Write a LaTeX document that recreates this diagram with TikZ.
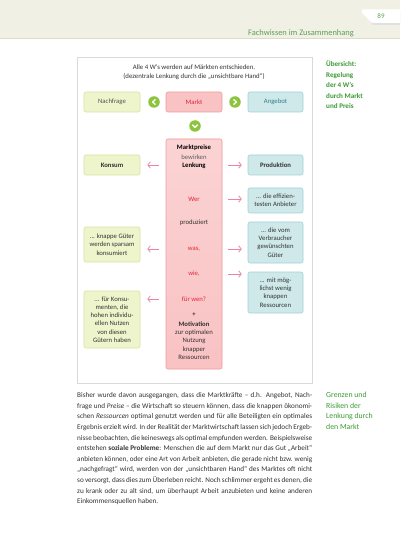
\documentclass[tikz,border=0pt]{standalone}
\usepackage{fontspec}
\setmainfont{Carlito}
\usetikzlibrary{arrows.meta,calc}
\definecolor{headbg}{HTML}{F1F0E4}
\definecolor{headline}{HTML}{DCDCC8}
\definecolor{headgreen}{HTML}{5E9E55}
\definecolor{framec}{HTML}{D9D9D9}
\definecolor{gfill}{HTML}{EEF5CC}
\definecolor{gdraw}{HTML}{D3E4A0}
\definecolor{rfill}{HTML}{F9C2C3}
\definecolor{rfilltop}{HTML}{FBD3D3}
\definecolor{rdraw}{HTML}{EE9EA6}
\definecolor{tfill}{HTML}{CFE8EA}
\definecolor{tdraw}{HTML}{A3D3D6}
\definecolor{redtext}{HTML}{E4233A}
\definecolor{tealtext}{HTML}{2E7E86}
\definecolor{arrpink}{HTML}{E985A0}
\definecolor{gcircc}{HTML}{8CC43E}
\definecolor{notegreen}{HTML}{3C9A34}
\definecolor{darktext}{HTML}{333333}
\tikzset{
  gbox/.style={draw=gdraw, fill=gfill, rounded corners=2pt, line width=0.6pt, align=center, inner sep=1pt, text=darktext},
  rbox/.style={draw=rdraw, fill=rfill, rounded corners=2pt, line width=0.6pt, align=center, inner sep=1pt},
  tbox/.style={draw=tdraw, fill=tfill, rounded corners=2pt, line width=0.6pt, align=center, inner sep=1pt, text=darktext},
  boxfont/.style={font=\fontsize{6.7}{8.2}\selectfont},
  inner/.style={inner sep=0pt, align=center, font=\fontsize{6.7}{8.3}\selectfont},
  arr/.style={draw=arrpink, line width=0.75pt, -{Straight Barb[length=2.6pt,width=6.5pt]}},
  gcirc/.style={circle, fill=gcircc, minimum size=11.5pt, inner sep=0pt},
  chev/.style={draw=white, line width=1.4pt, line cap=round, line join=round},
  note/.style={anchor=north west, inner sep=0pt, align=left, text=notegreen, font=\fontsize{7.8}{10.6}\selectfont}
}
\begin{document}
\begin{tikzpicture}[x=1pt,y=-1pt]
\useasboundingbox (0,0) rectangle (400,534);
\fill[white] (0,0) rectangle (400,534);
% header
\fill[headbg] (0,0) rectangle (400,38);
\draw[headline, line width=0.8pt] (0,38.5) -- (400,38.5);
\fill[black!12] (363,11) -- (400,11) -- (400,25) -- (373,25) -- cycle;
\fill[white] (362,9.5) -- (400,9.5) -- (400,23) -- (372,23) -- (362,13) -- cycle;
\node[anchor=base east, inner sep=0pt, text=headgreen, font=\fontsize{8.4}{10}\selectfont] (head) at (354,36) {Fachwissen im Zusammenhang};
\node[inner sep=0pt, text=headgreen, font=\fontsize{7}{8}\selectfont] (pg) at (381,16.5) {89};
% frame
\node[draw=framec, line width=0.7pt, fill=white, minimum width=235, minimum height=326, inner sep=0pt] (frame) at (194.5,220) {};
\node[inner sep=0pt, align=center, text=darktext, font=\fontsize{6.8}{9.2}\selectfont] (title) at (194,72.5) {Alle 4 W's werden auf Märkten entschieden.\\(dezentrale Lenkung durch die „unsichtbare Hand“)};
% top row
\node[gbox, boxfont, minimum width=56, minimum height=20, text=darktext!85] (nach) at (112,102) {Nachfrage};
\node[rbox, boxfont, minimum width=56, minimum height=20, text=redtext] (markt) at (194,102) {Markt};
\node[tbox, boxfont, minimum width=55, minimum height=20, text=tealtext] (ang) at (275.5,102) {Angebot};
\node[gcirc] (cl) at (154,102) {};
\draw[chev] ($(cl)+(1.1,-2.3)$) -- ($(cl)+(-1.3,0)$) -- ($(cl)+(1.1,2.3)$);
\node[gcirc] (cr) at (235,102) {};
\draw[chev] ($(cr)+(-1.1,-2.3)$) -- ($(cr)+(1.3,0)$) -- ($(cr)+(-1.1,2.3)$);
\node[gcirc] (cd) at (195,126) {};
\draw[chev] ($(cd)+(-2.3,-1.0)$) -- ($(cd)+(0,1.4)$) -- ($(cd)+(2.3,-1.0)$);
% tall box
\node[rbox, top color=rfilltop, bottom color=rfill, minimum width=56, minimum height=230] (big) at (194,254) {};
\node[inner, font=\bfseries\fontsize{6.7}{8.3}\selectfont] (t1) at (194,148) {Marktpreise};
\node[inner, text=darktext!80] (t2) at (194,157) {bewirken};
\node[inner, font=\bfseries\fontsize{6.7}{8.3}\selectfont] (t3) at (194,166) {Lenkung};
\node[inner, text=redtext] (wer) at (194,199) {Wer};
\node[inner, text=darktext] (prod) at (194,223) {produziert};
\node[inner, text=redtext] (was) at (194,249) {was,};
\node[inner, text=redtext] (wie) at (194,274) {wie,};
\node[inner, text=redtext] (fuer) at (194,299) {für wen?};
\node[inner] (plus) at (194,315) {+};
\node[inner, text=darktext] (mot) at (194,340.5) {\textbf{Motivation}\\zur optimalen\\Nutzung\\knapper\\Ressourcen};
% side boxes
\node[gbox, font=\bfseries\fontsize{6.7}{8.1}\selectfont, minimum width=56, minimum height=20] (kons) at (112,165) {Konsum};
\node[tbox, font=\bfseries\fontsize{6.7}{8.1}\selectfont, minimum width=55, minimum height=20] (produk) at (275.5,165) {Produktion};
\node[tbox, boxfont, minimum width=55, minimum height=25] (eff) at (275.5,200.5) {... die effizien-\\testen Anbieter};
\node[tbox, boxfont, minimum width=55, minimum height=41] (verb) at (275.5,242.5) {... die vom\\Verbraucher\\gewünschten\\Güter};
\node[tbox, boxfont, minimum width=55, minimum height=41] (res) at (275.5,292.5) {... mit mög-\\lichst wenig\\knappen\\Ressourcen};
\node[gbox, boxfont, minimum width=56, minimum height=35] (knapp) at (112,244.5) {... knappe Güter\\werden sparsam\\konsumiert};
\node[gbox, boxfont, minimum width=56, minimum height=57] (konsu) at (112,319.5) {... für Konsu-\\menten, die\\hohen individu-\\ellen Nutzen\\von diesen\\Gütern haben};
% arrows
\draw[arr, shorten <=7pt, shorten >=7pt] (big.west|-kons.east) -- (kons.east);
\draw[arr, shorten <=6pt, shorten >=6pt] (big.east|-produk.west) -- (produk.west);
\draw[arr, shorten <=6pt, shorten >=6pt] (big.east|-wer) -- (eff.west|-wer);
\draw[arr, shorten <=7pt, shorten >=7pt] (big.west|-was) -- (knapp.east|-was);
\draw[arr, shorten <=6pt, shorten >=6pt] (big.east|-was) -- (verb.west|-was);
\draw[arr, shorten <=6pt, shorten >=6pt] (big.east|-wie) -- (res.west|-wie);
\draw[arr, shorten <=7pt, shorten >=7pt] (big.west|-fuer) -- (konsu.east|-fuer);
% side notes
\node[note, font=\bfseries\fontsize{7.1}{10.4}\selectfont] (n1) at (326,61) {Übersicht:\\Regelung\\der 4 W's\\durch Markt\\und Preis};
\node[note] (n2) at (326,392) {Grenzen und\\Risiken der\\Lenkung durch\\den Markt};
% body
\node[anchor=north west, inner sep=0pt, text width=235pt, align=justify, text=darktext, font=\fontsize{7.2}{10.6}\selectfont] (body) at (77,392.5) {Bisher wurde davon ausgegangen, dass die Marktkräfte – d.h. Angebot, Nach-\linebreak
frage und \textit{Preise} – die Wirtschaft so steuern können, dass die knappen ökonomi-\linebreak
schen \textit{Ressourcen} optimal genutzt werden und für alle Beteiligten ein optimales\linebreak
Ergebnis erzielt wird. In der Realität der Marktwirtschaft lassen sich jedoch Ergeb-\linebreak
nisse beobachten, die keineswegs als optimal empfunden werden. Beispielsweise\linebreak
entstehen \textbf{soziale Probleme}: Menschen die auf dem Markt nur das Gut „Arbeit“\linebreak
anbieten können, oder eine Art von Arbeit anbieten, die gerade nicht bzw. wenig\linebreak
„nachgefragt“ wird, werden von der „unsichtbaren Hand“ des Marktes oft nicht\linebreak
so versorgt, dass dies zum Überleben reicht. Noch schlimmer ergeht es denen, die\linebreak
zu krank oder zu alt sind, um überhaupt Arbeit anzubieten und keine anderen\linebreak
Einkommensquellen haben.};
\end{tikzpicture}
\end{document}
